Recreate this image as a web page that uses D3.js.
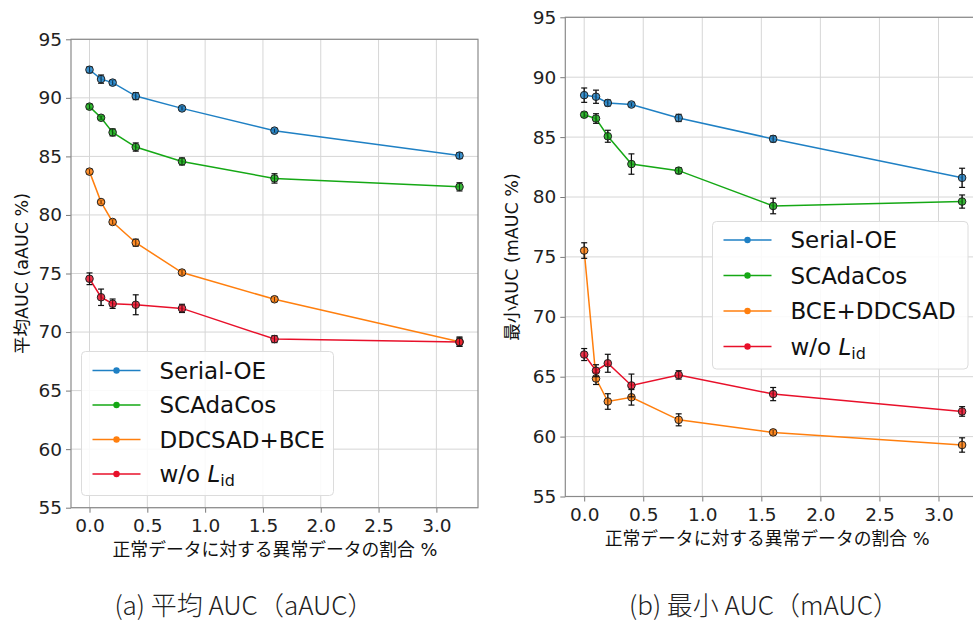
<!DOCTYPE html>
<html>
<head>
<meta charset="utf-8">
<script src="https://cdn.jsdelivr.net/npm/d3@7"></script>
<style>
  body { margin: 0; background: #fff; }
  svg { display: block; }
</style>
</head>
<body>
<div id="chart"></div>
<script>
// anomaly ratio (%)
const ratios = [0, 0.1, 0.2, 0.4, 0.8, 1.6, 3.2];
const xTicks = [0, 0.5, 1.0, 1.5, 2.0, 2.5, 3.0];
const yTicks = [55, 60, 65, 70, 75, 80, 85, 90, 95];

// (a) average AUC
const aSerialOE = [92.4, 91.6, 91.3, 90.15, 89.1, 87.2, 85.07];
const aSerialOEErr = [0.25, 0.35, 0.2, 0.3, 0.15, 0.15, 0.25];
const aSCAdaCos = [89.25, 88.3, 87.05, 85.8, 84.57, 83.12, 82.4];
const aSCAdaCosErr = [0.2, 0.15, 0.3, 0.35, 0.3, 0.4, 0.35];
const aDDCSAD = [83.7, 81.1, 79.4, 77.63, 75.08, 72.8, 69.18];
const aDDCSADErr = [0.2, 0.15, 0.2, 0.3, 0.2, 0.2, 0.4];
const aWoLid = [74.55, 72.97, 72.42, 72.33, 72.02, 69.4, 69.15];
const aWoLidErr = [0.5, 0.7, 0.4, 0.85, 0.35, 0.3, 0.35];

// (b) minimum AUC
const mSerialOE = [88.5, 88.37, 87.85, 87.72, 86.6, 84.85, 81.6];
const mSerialOEErr = [0.6, 0.55, 0.25, 0.15, 0.3, 0.25, 0.8];
const mSCAdaCos = [86.87, 86.55, 85.07, 82.75, 82.2, 79.25, 79.62];
const mSCAdaCosErr = [0.2, 0.4, 0.5, 0.85, 0.25, 0.65, 0.55];
const mDDCSAD = [75.53, 64.85, 62.93, 63.28, 61.4, 60.35, 59.3];
const mDDCSADErr = [0.65, 0.5, 0.65, 0.65, 0.5, 0.2, 0.6];
const mWoLid = [66.85, 65.5, 66.12, 64.27, 65.15, 63.55, 62.1];
const mWoLidErr = [0.5, 0.5, 0.75, 0.95, 0.35, 0.55, 0.4];

const colors = {serial: '#1f80c4', scada: '#15a815', ddcsad: '#ff7f0e', wolid: '#e8102a'};

const tickFont = '"DejaVu Sans", "Noto Sans CJK JP", sans-serif';

const svg = d3.select('#chart').append('svg')
    .attr('width', 973)
    .attr('height', 622)
    .attr('xmlns', 'http://www.w3.org/2000/svg');

function panel(fmt, series) {
    const x = d3.scaleLinear().domain([-0.16, 3.36]).range([fmt.left, fmt.right]);
    const y = d3.scaleLinear().domain([55, 95]).range([fmt.bottom, fmt.top]);

    let g = svg.append('g');

    // grid
    g.append('g').selectAll('line')
        .data(xTicks)
        .enter().append('line')
        .attr('x1', (d) => x(d)).attr('x2', (d) => x(d))
        .attr('y1', fmt.top).attr('y2', fmt.bottom)
        .attr('stroke', '#d6d6d6').attr('stroke-width', 1);
    g.append('g').selectAll('line')
        .data(yTicks)
        .enter().append('line')
        .attr('x1', fmt.left).attr('x2', fmt.right)
        .attr('y1', (d) => y(d)).attr('y2', (d) => y(d))
        .attr('stroke', '#d6d6d6').attr('stroke-width', 1);

    // axes
    let bottom = g.append('g')
        .attr('transform', 'translate(0,' + fmt.bottom + ')')
        .call(d3.axisBottom(x).tickValues(xTicks).tickFormat(d3.format('.1f')).tickSizeOuter(0).tickSize(5).tickPadding(4));
    let left = g.append('g')
        .attr('transform', 'translate(' + fmt.left + ',0)')
        .call(d3.axisLeft(y).tickValues(yTicks).tickSizeOuter(0).tickSize(5).tickPadding(4));
    [bottom, left].forEach((a) => {
        a.select('.domain').remove();
        a.selectAll('line').attr('stroke', '#7a7a7a');
        a.selectAll('text')
            .attr('fill', '#222')
            .style('font-family', tickFont)
            .style('font-size', '18.5px');
    });
    bottom.selectAll('text').attr('dy', '0.85em');

    // frame
    g.append('rect')
        .attr('x', fmt.left).attr('y', fmt.top)
        .attr('width', fmt.right - fmt.left)
        .attr('height', fmt.bottom - fmt.top)
        .attr('fill', 'none')
        .attr('stroke', '#8a8a8a')
        .attr('stroke-width', 1.2);

    const line = d3.line()
        .x((d) => x(d[0]))
        .y((d) => y(d[1]));

    series.forEach((s) => {
        let pts = ratios.map((r, i) => [r, s.values[i], s.err[i]]);
        g.append('path').datum(pts)
            .attr('fill', 'none')
            .attr('stroke', s.color)
            .attr('stroke-width', 1.5)
            .attr('d', line);
        let eb = g.append('g').selectAll('g')
            .data(pts)
            .enter().append('g');
        eb.append('line')
            .attr('x1', (d) => x(d[0])).attr('x2', (d) => x(d[0]))
            .attr('y1', (d) => y(d[1] - d[2])).attr('y2', (d) => y(d[1] + d[2]))
            .attr('stroke', '#111').attr('stroke-width', 1.2);
        [-1, 1].forEach((sgn) => {
            eb.append('line')
                .attr('x1', (d) => x(d[0]) - 3).attr('x2', (d) => x(d[0]) + 3)
                .attr('y1', (d) => y(d[1] + sgn * d[2])).attr('y2', (d) => y(d[1] + sgn * d[2]))
                .attr('stroke', '#111').attr('stroke-width', 1.2);
        });
        g.append('g').selectAll('circle')
            .data(pts)
            .enter().append('circle')
            .attr('cx', (d) => x(d[0]))
            .attr('cy', (d) => y(d[1]))
            .attr('r', 3.8)
            .attr('fill', s.color)
            .attr('fill-opacity', 0.85)
            .attr('stroke', '#222')
            .attr('stroke-width', 1);
        // redraw the bar over the marker like matplotlib does
        g.append('g').selectAll('line')
            .data(pts)
            .enter().append('line')
            .attr('x1', (d) => x(d[0])).attr('x2', (d) => x(d[0]))
            .attr('y1', (d) => y(d[1] - d[2])).attr('y2', (d) => y(d[1] + d[2]))
            .attr('stroke', '#111').attr('stroke-opacity', 0.6).attr('stroke-width', 1);
    });

    // legend
    let lg = svg.append('g');
    lg.append('rect')
        .attr('x', fmt.legend.x).attr('y', fmt.legend.y)
        .attr('width', fmt.legend.w).attr('height', fmt.legend.h)
        .attr('rx', 4)
        .attr('fill', '#fff').attr('fill-opacity', 0.85)
        .attr('stroke', '#dcdcdc');
    series.forEach((s, i) => {
        let ly = fmt.legend.y + fmt.legend.row0 + i * fmt.legend.step;
        let lx = fmt.legend.x + 11;
        lg.append('line')
            .attr('x1', lx).attr('x2', lx + 48)
            .attr('y1', ly).attr('y2', ly)
            .attr('stroke', s.color).attr('stroke-width', 1.5);
        lg.append('circle')
            .attr('cx', lx + 24).attr('cy', ly).attr('r', 3.2)
            .attr('fill', s.color);
        let t = lg.append('text')
            .attr('x', lx + 67).attr('y', ly)
            .attr('dy', '0.36em')
            .attr('fill', '#111')
            .style('font-family', tickFont)
            .style('font-size', '23px');
        if (s.italic) {
            t.append('tspan').text('w/o ');
            t.append('tspan').style('font-style', 'italic').text('L');
            t.append('tspan').attr('dy', '0.25em').style('font-size', '16px').text('id');
        } else {
            t.text(s.name);
        }
    });

    // labels
    svg.append('text')
        .attr('x', (fmt.left + Math.min(fmt.right, 973)) / 2 + fmt.xlabelShift)
        .attr('y', fmt.bottom + 48)
        .attr('text-anchor', 'middle')
        .attr('fill', '#111')
        .style('font-family', tickFont)
        .style('font-size', '17.8px')
        .text('正常データに対する異常データの割合 %');

    svg.append('text')
        .attr('transform', 'translate(' + fmt.ylabelX + ',' + (fmt.top + fmt.bottom) / 2 + ') rotate(-90)')
        .attr('text-anchor', 'middle')
        .attr('dy', '0.35em')
        .attr('fill', '#111')
        .style('font-family', tickFont)
        .style('font-size', '17.5px')
        .text(fmt.ylabel);

    svg.append('text')
        .attr('x', fmt.captionX)
        .attr('y', 606)
        .attr('text-anchor', 'middle')
        .attr('dy', '0.35em')
        .attr('fill', '#222')
        .style('font-family', '"Noto Sans CJK JP", sans-serif')
        .style('font-weight', 300)
        .style('font-size', '26px')
        .text(fmt.caption);
}

panel({
    left: 71, right: 478, top: 39.3, bottom: 507.7,
    ylabel: '平均AUC (aAUC %)', ylabelX: 22,
    caption: '(a) 平均 AUC（aAUC）', captionX: 244, xlabelShift: 0.5,
    legend: {x: 81.5, y: 351.5, w: 252, h: 144, row0: 19, step: 34.5}
}, [
    {name: 'Serial-OE', values: aSerialOE, err: aSerialOEErr, color: colors.serial},
    {name: 'SCAdaCos', values: aSCAdaCos, err: aSCAdaCosErr, color: colors.scada},
    {name: 'DDCSAD+BCE', values: aDDCSAD, err: aDDCSADErr, color: colors.ddcsad},
    {name: 'w/o Lid', values: aWoLid, err: aWoLidErr, color: colors.wolid, italic: true}
]);

panel({
    left: 565.3, right: 981, top: 17.3, bottom: 496.5,
    ylabel: '最小AUC (mAUC %)', ylabelX: 512,
    caption: '(b) 最小 AUC（mAUC）', captionX: 764, xlabelShift: -2,
    legend: {x: 712.5, y: 221.5, w: 255.5, h: 147.5, row0: 18.5, step: 35.5}
}, [
    {name: 'Serial-OE', values: mSerialOE, err: mSerialOEErr, color: colors.serial},
    {name: 'SCAdaCos', values: mSCAdaCos, err: mSCAdaCosErr, color: colors.scada},
    {name: 'BCE+DDCSAD', values: mDDCSAD, err: mDDCSADErr, color: colors.ddcsad},
    {name: 'w/o Lid', values: mWoLid, err: mWoLidErr, color: colors.wolid, italic: true}
]);
</script>
</body>
</html>
